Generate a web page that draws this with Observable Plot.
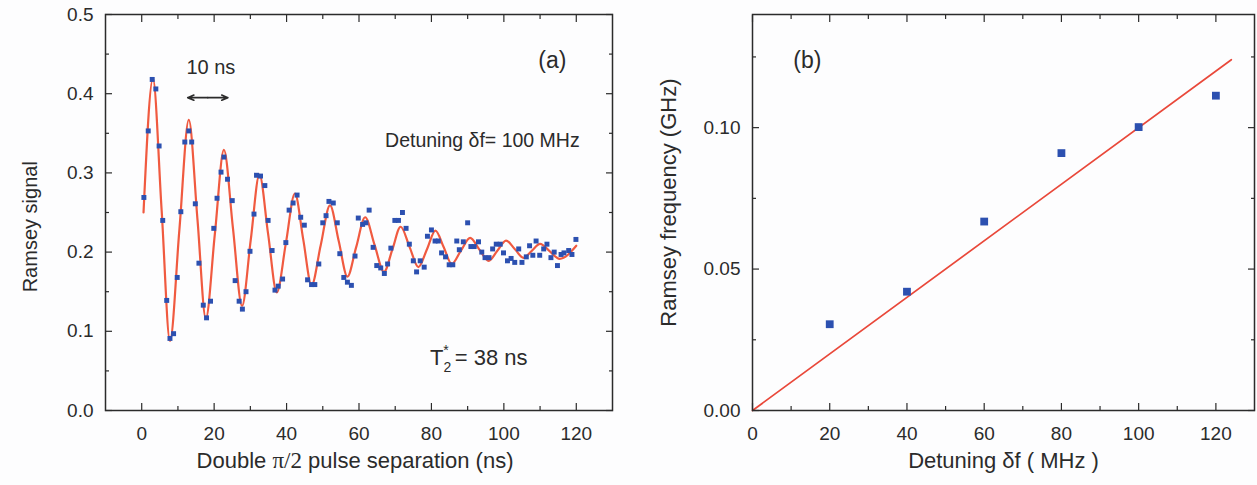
<!DOCTYPE html>
<html><head><meta charset="utf-8">
<script src="https://cdn.jsdelivr.net/npm/d3@7"></script>
<script src="https://cdn.jsdelivr.net/npm/@observablehq/plot@0.6"></script>
<style>
html,body{margin:0;padding:0;background:#fdfdfe;}
#wrap{position:relative;width:1257px;height:485px;overflow:hidden;}
#pa{position:absolute;left:0;top:0;}
#pb{position:absolute;left:630px;top:0;}
</style></head><body><div id="wrap"><div id="pa"></div><div id="pb"></div></div>
<script>
// ---------- Panel (a) data ----------
const sepNs = [0.6,1.8,2.9,3.9,4.8,5.8,6.9,7.8,8.8,9.8,10.8,11.9,13.0,13.8,14.8,15.8,17.0,17.9,19.0,19.9,20.8,21.9,22.7,23.7,25.0,25.8,26.9,27.8,28.8,29.9,31.0,31.7,32.8,34.0,34.9,36.0,36.8,37.7,38.9,39.8,40.7,41.8,42.9,43.9,44.9,45.8,46.9,47.8,48.9,50.0,50.9,51.7,52.9,54.0,54.7,55.8,56.8,57.9,58.9,59.8,61.0,61.9,62.8,63.9,64.9,66.0,67.0,67.9,68.8,69.9,70.9,72.0,73.0,73.9,75.0,75.9,76.9,78.0,78.9,80.0,81.0,81.9,82.8,83.9,84.9,85.9,87.0,87.7,88.8,90.0,90.9,91.8,93.0,93.9,94.8,95.9,96.9,97.9,99.0,99.9,101.0,102.0,103.0,104.1,105.0,106.2,107.1,108.0,108.9,109.9,111.0,111.9,113.0,113.9,114.8,115.8,116.6,117.9,118.8,119.9];
const signal = [0.269,0.353,0.418,0.406,0.334,0.240,0.139,0.091,0.097,0.168,0.251,0.339,0.353,0.339,0.261,0.186,0.133,0.117,0.138,0.230,0.268,0.301,0.320,0.292,0.265,0.164,0.138,0.128,0.150,0.201,0.248,0.297,0.296,0.284,0.240,0.202,0.152,0.157,0.166,0.212,0.253,0.262,0.272,0.244,0.234,0.165,0.159,0.159,0.185,0.237,0.246,0.264,0.262,0.237,0.198,0.168,0.162,0.158,0.195,0.243,0.235,0.237,0.253,0.206,0.183,0.180,0.173,0.185,0.205,0.240,0.240,0.250,0.230,0.210,0.189,0.175,0.189,0.181,0.220,0.228,0.214,0.214,0.199,0.194,0.184,0.184,0.214,0.203,0.213,0.237,0.207,0.207,0.213,0.200,0.193,0.193,0.204,0.210,0.210,0.199,0.189,0.192,0.187,0.204,0.187,0.194,0.208,0.196,0.214,0.196,0.204,0.210,0.193,0.200,0.183,0.197,0.199,0.202,0.197,0.216];
// fitted curve, read at its start, extremes, crossings and end
const fitNs = [0.5,3.1,5.5,7.8,10.4,13.0,15.4,17.7,20.2,22.7,25.2,27.7,30.1,32.5,34.9,37.3,39.8,42.3,44.6,46.9,49.4,52.0,54.4,56.8,59.2,61.7,64.3,66.9,69.2,71.5,74.0,76.4,78.8,81.1,83.4,85.6,88.1,90.7,93.2,95.8,98.2,100.6,103.0,105.4,107.7,110.0,112.7,115.4,120.0];
const fitSignal = [0.250,0.419,0.253,0.088,0.228,0.367,0.241,0.116,0.223,0.329,0.230,0.132,0.215,0.298,0.223,0.149,0.211,0.274,0.216,0.158,0.208,0.259,0.214,0.169,0.206,0.244,0.209,0.175,0.203,0.232,0.206,0.181,0.204,0.227,0.206,0.185,0.2015,0.218,0.2035,0.189,0.2018,0.2146,0.204,0.1928,0.2016,0.2104,0.201,0.1915,0.208];
const xTicksA = [0,20,40,60,80,100,120];
const xMinorA = [10,30,50,70,90,110];
const yTicksA = [0,0.1,0.2,0.3,0.4,0.5];
const yMinorA = [0.05,0.15,0.25,0.35,0.45];

// ---------- Panel (b) data ----------
const detuning = [20,40,60,80,100,120];
const ramseyFreq = [0.0305,0.042,0.0668,0.091,0.1002,0.1113];
const lineDetuning = [0,124];
const lineFreq = [0,0.124];
const xTicksB = [0,20,40,60,80,100,120];
const xMinorB = [10,30,50,70,90,110];
const yTicksB = [0,0.05,0.10];
const yMinorB = [0.025,0.075,0.125];

// ---------- Annotation text ----------
const labelA = "(a)", labelB = "(b)";
const arrowText = "10 ns";
const detuneText = "Detuning \u03b4f= 100 MHz";
const t2Text = "T2* = 38 ns";
const xTitleA = "Double \u03c0/2 pulse separation (ns)";
const yTitleA = "Ramsey signal";
const xTitleB = "Detuning \u03b4f ( MHz )";
const yTitleB = "Ramsey frequency (GHz)";

const INK = "#2b2b2b", BLUE = "#2c50b0", RED = "#f05a40", RED_B = "#e9483a";
const FONT = "'Liberation Sans', Arial, Helvetica, sans-serif";

function frameTicks(xMaj, xMin, yMaj, yMin) {
  const o = {fill: "none", stroke: INK, strokeWidth: 1.2, label: null};
  const ax = (t, s) => [
    Plot.axisX(t, {...o, anchor: "bottom", tickSize: s, dy: -s}),
    Plot.axisX(t, {...o, anchor: "top", tickSize: s, dy: s})
  ];
  const ay = (t, s) => [
    Plot.axisY(t, {...o, anchor: "left", tickSize: s, dx: s}),
    Plot.axisY(t, {...o, anchor: "right", tickSize: s, dx: -s})
  ];
  return [...ax(xMaj, 7), ...ax(xMin, 4), ...ay(yMaj, 7), ...ay(yMin, 4)];
}

const ptsA = sepNs.map((t, i) => ({t, v: signal[i]}));
const fitA = fitNs.map((t, i) => ({t, v: fitSignal[i]}));
const ptsB = detuning.map((d, i) => ({d, f: ramseyFreq[i]}));
const lineB = lineDetuning.map((d, i) => ({d, f: lineFreq[i]}));

const plotA = Plot.plot({
  width: 630, height: 485,
  marginLeft: 105, marginRight: 18, marginTop: 14, marginBottom: 75,
  style: {background: "transparent", fontFamily: FONT, color: INK, overflow: "visible"},
  x: {domain: [-10, 130]},
  y: {domain: [0, 0.5]},
  marks: [
    Plot.line(fitA, {x: "t", y: "v", curve: "monotone-x", stroke: RED, strokeWidth: 2.2}),
    Plot.dot(ptsA, {x: "t", y: "v", symbol: "square", r: 2.8, fill: BLUE, stroke: "none"}),
    Plot.frame({stroke: INK, strokeWidth: 1.5}),
    ...frameTicks(xTicksA, xMinorA, yTicksA, yMinorA),
    Plot.axisX(xTicksA, {anchor: "bottom", tickSize: 0, tickPadding: 16, fontSize: 19, label: null, fill: INK, tickFormat: d => d}),
    Plot.axisY(yTicksA, {anchor: "left", tickSize: 0, tickPadding: 12, fontSize: 19, label: null, fill: INK, tickFormat: d3.format(".1f")}),
    Plot.text([xTitleA], {frameAnchor: "bottom", dy: 57, dx: -4, text: d => d, fontSize: 22, fill: INK}),
    Plot.text([yTitleA], {x: () => -10, y: () => 0.232, dx: -75, rotate: -90, text: d => d, fontSize: 20, fill: INK}),
    Plot.text([labelA], {x: () => 113.4, y: () => 0.442, text: d => d, fontSize: 23, fill: INK}),
    Plot.text([arrowText], {x: () => 19.1, y: () => 0.433, text: d => d, fontSize: 20, fill: INK}),
    Plot.arrow([12.7, 23.8], {x1: () => 18.25, y1: () => 0.395, x2: d => d, y2: () => 0.395, stroke: INK, strokeWidth: 1.6, headLength: 7, headAngle: 45}),
    Plot.text([detuneText], {x: () => 67.2, y: () => 0.341, text: d => d, textAnchor: "start", fontSize: 19.5, fill: INK}),
    Plot.text([t2Text], {x: () => 79.6, y: () => 0.066, text: d => d, textAnchor: "start", fontSize: 22, fill: INK})
  ]
});

const plotB = Plot.plot({
  width: 627, height: 485,
  marginLeft: 122, marginRight: 3, marginTop: 14, marginBottom: 75,
  style: {background: "transparent", fontFamily: FONT, color: INK, overflow: "visible"},
  x: {domain: [0, 130]},
  y: {domain: [0, 0.14]},
  marks: [
    Plot.line(lineB, {x: "d", y: "f", stroke: RED_B, strokeWidth: 1.7}),
    Plot.dot(ptsB, {x: "d", y: "f", symbol: "square", r: 4.4, fill: BLUE, stroke: "none"}),
    Plot.frame({stroke: INK, strokeWidth: 1.5}),
    ...frameTicks(xTicksB, xMinorB, yTicksB, yMinorB),
    Plot.axisX(xTicksB, {anchor: "bottom", tickSize: 0, tickPadding: 16, fontSize: 19, label: null, fill: INK, tickFormat: d => d}),
    Plot.axisY(yTicksB, {anchor: "left", tickSize: 0, tickPadding: 12, fontSize: 19, label: null, fill: INK, tickFormat: d3.format(".2f")}),
    Plot.text([xTitleB], {frameAnchor: "bottom", dy: 57, text: d => d, fontSize: 22, fill: INK}),
    Plot.text([yTitleB], {x: () => 0, y: () => 0.0735, dx: -84, rotate: -90, text: d => d, fontSize: 22, fill: INK}),
    Plot.text([labelB], {x: () => 14.2, y: () => 0.1237, text: d => d, fontSize: 23, fill: INK})
  ]
});

document.getElementById("pa").appendChild(plotA);
document.getElementById("pb").appendChild(plotB);

// rich text: subscript/superscript and serif pi/2
d3.select(plotA).selectAll("text").each(function() {
  const el = d3.select(this);
  const s = this.textContent;
  if (s === t2Text) {
    el.text(null);
    el.append("tspan").text("T");
    el.append("tspan").attr("dy", 7).attr("font-size", 14).text("2");
    el.append("tspan").attr("dx", -8).attr("dy", -17).attr("font-size", 14).text("*");
    el.append("tspan").attr("dy", 10).text(" = 38 ns");
  } else if (s === xTitleA) {
    el.text(null);
    el.append("tspan").text("Double ");
    el.append("tspan").attr("font-family", "'Liberation Serif', 'DejaVu Serif', serif").attr("font-size", 23).text("\u03c0/2");
    el.append("tspan").text(" pulse separation (ns)");
  }
});
</script></body></html>
